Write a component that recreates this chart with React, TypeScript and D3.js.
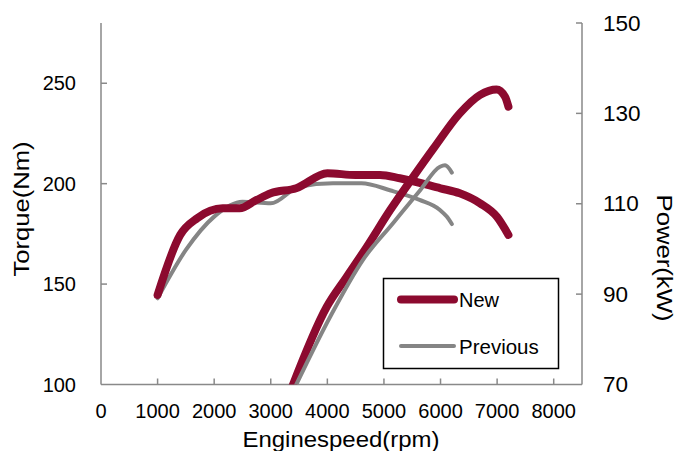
import React from "react";
import * as d3 from "d3";

const W = 677;
const H = 451;

const xTicks = [0, 1000, 2000, 3000, 4000, 5000, 6000, 7000, 8000];
const leftTicks = [100, 150, 200, 250];
const rightTicks = [70, 90, 110, 130, 150];

const newRpmT = [1000, 1400, 1700, 2150, 2450, 2750, 3000, 3450, 4000, 4500, 4930, 5280, 6000, 6340, 6700, 7000, 7200];
const newTorque = [144.6, 174.5, 182.8, 187.7, 187.7, 191.9, 195.2, 197.7, 205.2, 204.3, 204.3, 202.7, 197.7, 195.2, 190.2, 183.4, 174.5];

const prevRpmT = [1000, 1500, 2000, 2500, 3000, 3500, 4100, 4600, 5120, 5630, 5990, 6110, 6200];
const prevTorque = [142.9, 167, 183.6, 191, 190.2, 198.5, 200.2, 200.2, 196.6, 191.9, 186.9, 183.6, 179.9];

const newRpmP = [3360, 3990, 4340, 4700, 5110, 5520, 5880, 6340, 6700, 6990, 7140, 7200];
const newPower = [68.9, 87.2, 93.8, 100.5, 108.6, 116, 122.3, 130, 134.1, 135.3, 133.7, 131.5];

const prevRpmP = [3420, 4050, 4630, 5160, 5640, 5990, 6080, 6200];
const prevPower = [69.2, 85, 97.6, 105.7, 113, 118.2, 118.5, 116.9];

const RED = "#8c0a2f";
const GREY = "#858585";
const AXIS = "#898989";
const FONT = "'Liberation Sans', Arial, sans-serif";

export default function App() {
  const x = d3.scaleLinear().domain([0, 8500]).range([101, 582]);
  const yL = d3.scaleLinear().domain([100, 280]).range([384.5, 23]);
  const yR = d3.scaleLinear().domain([70, 150]).range([384.5, 23]);

  const mk = (xs: number[], ys: number[], y: d3.ScaleLinear<number, number>) => {
    const pts: [number, number][] = xs.map((v, i) => [v, ys[i]]);
    return d3
      .line<[number, number]>()
      .x((d) => x(d[0]))
      .y((d) => y(d[1]))
      .curve(d3.curveMonotoneX)(pts) as string;
  };

  const [x0, x1] = x.range();
  const yb = yL(100);
  const yt = yL(280);

  return (
    <svg
      width={W}
      height={H}
      style={{ position: "absolute", left: 0, top: 0, background: "#fff" }}
      fontFamily={FONT}
    >
      <defs>
        <clipPath id="plot">
          <rect x={x0} y={yt} width={x1 - x0} height={yb - yt} />
        </clipPath>
      </defs>

      {/* axes */}
      <g stroke={AXIS} strokeWidth={1.5} fill="none">
        <line x1={x0} y1={yt} x2={x0} y2={yb} />
        <line x1={x1} y1={yt} x2={x1} y2={yb} />
        <line x1={x0} y1={yb} x2={x1} y2={yb} />
        {leftTicks.slice(1).map((t) => (
          <line key={"lt" + t} x1={x0} x2={x0 + 6} y1={yL(t)} y2={yL(t)} />
        ))}
        {rightTicks.slice(1).map((t) => (
          <line key={"rt" + t} x1={x1} x2={x1 - 6} y1={yR(t)} y2={yR(t)} />
        ))}
        {xTicks.slice(1).map((t) => (
          <line key={"xt" + t} x1={x(t)} x2={x(t)} y1={yb} y2={yb - 6} />
        ))}
      </g>

      {/* tick labels */}
      <g fontSize={20} fill="#000">
        {leftTicks.map((t) => (
          <text key={"ll" + t} x={76} y={yL(t)} textAnchor="end" dominantBaseline="central">
            {t}
          </text>
        ))}
        {xTicks.map((t) => (
          <text key={"xl" + t} x={x(t)} y={411} textAnchor="middle" dominantBaseline="central">
            {t}
          </text>
        ))}
      </g>
      <g fontSize={22.5} fill="#000">
        {rightTicks.map((t) => (
          <text key={"rl" + t} x={603} y={yR(t)} textAnchor="start" dominantBaseline="central">
            {t}
          </text>
        ))}
      </g>

      {/* axis titles */}
      <text x={341} y={447} fontSize={22} textAnchor="middle" textLength={197} lengthAdjust="spacingAndGlyphs">
        Enginespeed(rpm)
      </text>
      <text
        transform={`translate(21,209) rotate(-90)`}
        fontSize={22}
        textAnchor="middle"
        dominantBaseline="central"
        textLength={135}
        lengthAdjust="spacingAndGlyphs"
      >
        Torque(Nm)
      </text>
      <text
        transform={`translate(664,258) rotate(90)`}
        fontSize={22}
        textAnchor="middle"
        dominantBaseline="central"
        textLength={127}
        lengthAdjust="spacingAndGlyphs"
      >
        Power(kW)
      </text>

      {/* series */}
      <g clipPath="url(#plot)" fill="none" strokeLinecap="round" strokeLinejoin="round">
        <path d={mk(prevRpmT, prevTorque, yL)} stroke={GREY} strokeWidth={4} />
        <path d={mk(newRpmT, newTorque, yL)} stroke={RED} strokeWidth={8} />
        <path d={mk(newRpmP, newPower, yR)} stroke={RED} strokeWidth={8} />
        <path d={mk(prevRpmP, prevPower, yR)} stroke={GREY} strokeWidth={4} />
      </g>

      {/* legend */}
      <g>
        <rect x={383.5} y={278.5} width={175} height={90} fill="#fff" stroke="#000" strokeWidth={1.5} />
        <line x1={401} x2={454} y1={299.5} y2={299.5} stroke={RED} strokeWidth={8} strokeLinecap="round" />
        <text x={459} y={299.5} fontSize={20} dominantBaseline="central">
          New
        </text>
        <line x1={401} x2={454} y1={346} y2={346} stroke={GREY} strokeWidth={4} strokeLinecap="round" />
        <text x={459} y={346} fontSize={20.5} dominantBaseline="central">
          Previous
        </text>
      </g>
    </svg>
  );
}
